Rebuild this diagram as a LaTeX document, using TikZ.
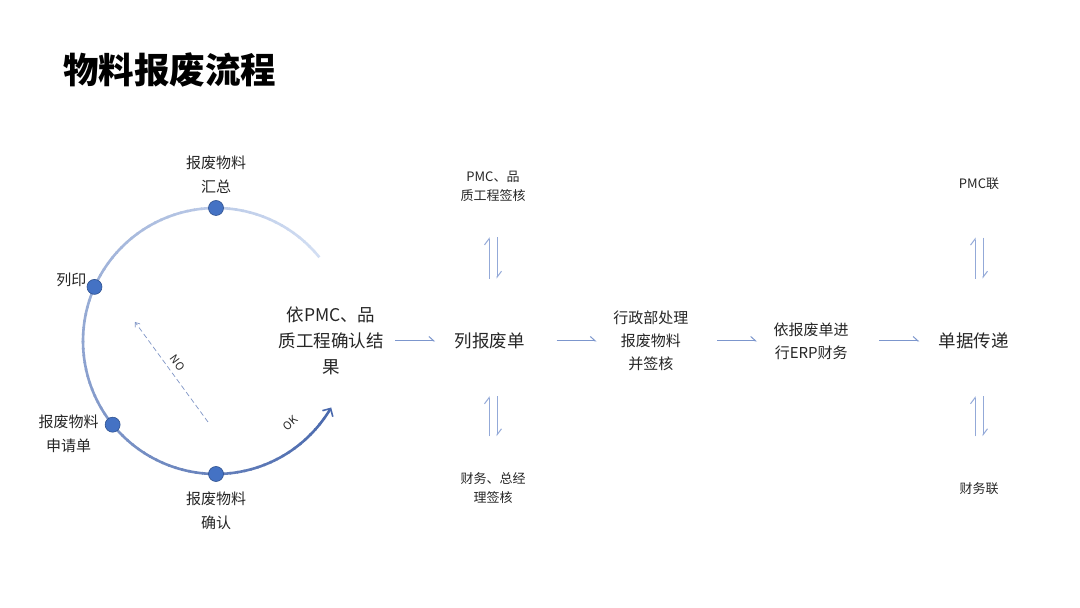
\documentclass[tikz,border=0pt]{standalone}
\usepackage{fontspec}
\setmainfont{Noto Sans CJK SC}
\usetikzlibrary{arrows.meta, positioning, calc}
\definecolor{TextDark}{HTML}{262626}
\definecolor{ArcLight}{HTML}{D2DEF3}
\definecolor{ArcDark}{HTML}{4A69AD}
\definecolor{DotBlue}{HTML}{4472C4}
\definecolor{DotEdge}{HTML}{2F528F}
\definecolor{FlowBlue}{HTML}{7C96CD}
\definecolor{HarpBlue}{HTML}{93A9D8}
\definecolor{DashBlue}{HTML}{7F95C6}

\begin{document}
\begin{tikzpicture}[
  x=1pt, y=1pt,
  title/.style={anchor=west, inner sep=0, font=\fontsize{35.5}{40}\selectfont\bfseries, text=black},
  bigtext/.style={inner sep=0, align=center, font=\fontsize{17.5}{26}\selectfont, text=TextDark},
  midtext/.style={inner sep=0, align=center, font=\fontsize{15}{23}\selectfont, text=TextDark},
  looptext/.style={inner sep=0, align=center, font=\fontsize{15}{24}\selectfont, text=TextDark},
  smalltext/.style={inner sep=0, align=center, font=\fontsize{13}{19}\selectfont, text=TextDark},
  dot/.style={circle, fill=DotBlue, draw=DotEdge, line width=0.6pt, minimum size=15pt, inner sep=0},
  arcline/.style={line width=2.6pt},
  flow/.style={-{Straight Barb[left, length=5pt, width=9pt]}, line width=1pt, FlowBlue},
  harp/.style={-{Straight Barb[left, length=6pt, width=9pt]}, line width=1pt, HarpBlue},
  back/.style={-{Straight Barb[length=4pt, width=6pt]}, dashed, dash pattern=on 5pt off 3pt, line width=0.7pt, DashBlue},
  tag/.style={inner sep=1pt, font=\fontsize{11}{12}\selectfont, text=TextDark}
]
\fill[white] (0,0) rectangle (1080,608);
\useasboundingbox (0,0) rectangle (1080,608);

\node[title] (head) at (63,538) {物料报废流程};

% loop with colour running from light to dark
\coordinate (hub) at (216,267);
\foreach \a in {39,42,...,321} {
  \pgfmathtruncatemacro\mix{(\a-39)/2.85}
  \draw[arcline, ArcDark!\mix!ArcLight] ($(hub)+(\a:133)$) arc[start angle=\a, delta angle=3.6, radius=133];
}
\draw[arcline, ArcDark, -{Straight Barb[length=6pt, width=12pt, line width=1.6pt]}] ($(hub)+(324:133)$) arc[start angle=324, end angle=330, radius=133];

\node[dot] (sumdot) at ($(hub)+(90:133)$) {};
\node[dot] (printdot) at ($(hub)+(156:133)$) {};
\node[dot] (reqdot) at ($(hub)+(219:133)$) {};
\node[dot] (confdot) at ($(hub)+(270:133)$) {};

\node[looptext, above=6pt of sumdot] (sum) {报废物料\\汇总};
\node[looptext, left=0pt of printdot, yshift=7pt] (print) {列印};
\node[looptext, left=6pt of reqdot, yshift=-9pt] (req) {报废物料\\申请单};
\node[looptext, below=10pt of confdot] (conf) {报废物料\\确认};

\coordinate (notail) at (208,186);
\coordinate (nohead) at (135,286);
\draw[back] (notail) -- node[tag, sloped, above=5pt, pos=0.53] {NO} (nohead);
\node[tag, rotate=42] (oklabel) at (290,185) {OK};

% main row
\node[bigtext] (res) at (331,267) {依PMC、品\\质工程确认结\\果};
\node[bigtext, right=71pt of res] (list) {列报废单};
\node[midtext, right=88pt of list] (proc) {行政部处理\\报废物料\\并签核};
\node[midtext, right=85pt of proc] (erp) {依报废单进\\行ERP财务};
\node[bigtext, right=89.5pt of erp] (doc) {单据传递};

\node[smalltext] (pmcq) at (493,422) {PMC、品\\质工程签核};
\node[smalltext] (finq) at (493,120) {财务、总经\\理签核};
\node[smalltext] (pmcl) at (979,424) {PMC联};
\node[smalltext] (finl) at (979,119) {财务联};

\draw[flow, shorten <=11.5pt, shorten >=19.5pt] (res) -- (list);
\draw[flow, shorten <=31.5pt, shorten >=16.5pt] (list) -- (proc);
\draw[flow, shorten <=28.5pt, shorten >=16.5pt] (proc) -- (erp);
\draw[flow, shorten <=30.5pt, shorten >=19pt] (erp) -- (doc);

\draw[harp, shorten <=54pt, shorten >=36pt] ([xshift=-4pt]pmcq.south |- list.north) -- ([xshift=-4pt]pmcq.south);
\draw[harp, shorten <=36pt, shorten >=54pt] ([xshift=4pt]pmcq.south) -- ([xshift=4pt]pmcq.south |- list.north);
\draw[harp, shorten <=36pt, shorten >=47pt] ([xshift=-4pt]finq.north) -- ([xshift=-4pt]finq.north |- list.south);
\draw[harp, shorten <=47pt, shorten >=36pt] ([xshift=4pt]finq.north |- list.south) -- ([xshift=4pt]finq.north);

\draw[harp, shorten <=54pt, shorten >=47.5pt] ([xshift=-4pt]pmcl.south |- doc.north) -- ([xshift=-4pt]pmcl.south);
\draw[harp, shorten <=47.5pt, shorten >=54pt] ([xshift=4pt]pmcl.south) -- ([xshift=4pt]pmcl.south |- doc.north);
\draw[harp, shorten <=46.5pt, shorten >=47pt] ([xshift=-4pt]finl.north) -- ([xshift=-4pt]finl.north |- doc.south);
\draw[harp, shorten <=47pt, shorten >=46.5pt] ([xshift=4pt]finl.north |- doc.south) -- ([xshift=4pt]finl.north);
\end{tikzpicture}
\end{document}
